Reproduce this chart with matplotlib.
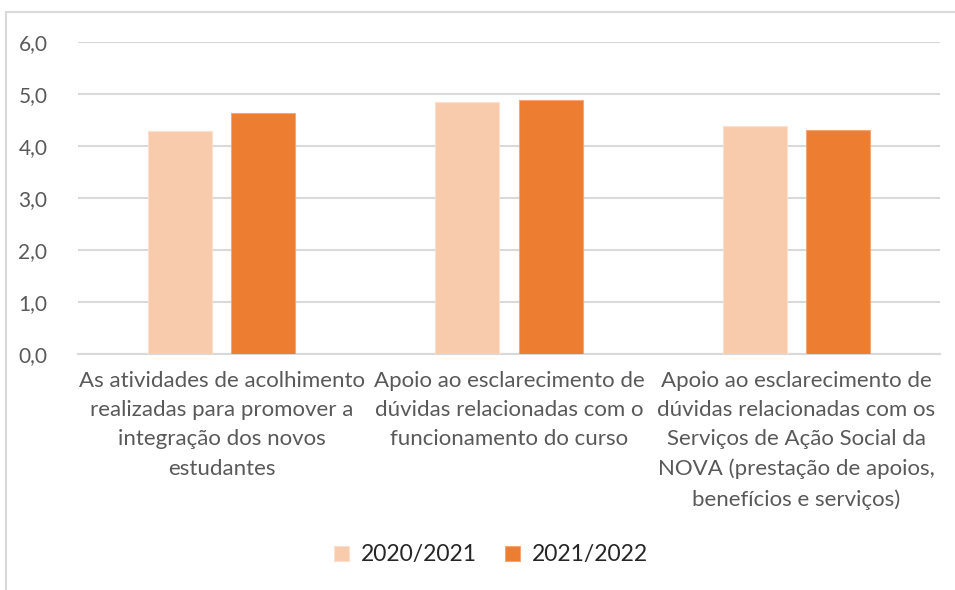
import matplotlib
matplotlib.use("Agg")
import matplotlib.pyplot as plt
from matplotlib.lines import Line2D
import numpy as np

categories = [
    "As atividades de acolhimento\nrealizadas para promover a\nintegração dos novos\nestudantes",
    "Apoio ao esclarecimento de\ndúvidas relacionadas com o\nfuncionamento do curso",
    "Apoio ao esclarecimento de\ndúvidas relacionadas com os\nServiços de Ação Social da\nNOVA (prestação de apoios,\nbenefícios e serviços)",
]
series_names = ["2020/2021", "2021/2022"]
values_2020 = [4.29, 4.85, 4.38]
values_2021 = [4.63, 4.88, 4.31]
yticks = [0, 1, 2, 3, 4, 5, 6]
ytick_labels = ["0,0", "1,0", "2,0", "3,0", "4,0", "5,0", "6,0"]

plt.rcParams['font.family'] = ['Lato', 'DejaVu Sans']
text_color = "#595959"
grid_color = "#D9D9D9"
c1 = "#F8CBAD"
c2 = "#ED7D31"

fig = plt.figure(figsize=(9.55, 5.9), dpi=100)
ax = fig.add_axes([78/955, 1-354/590, (940-78)/955, (354-42)/590])

x = np.arange(len(categories))
w = 0.223
off = 0.1446
ax.bar(x - off, values_2020, w, color=c1, edgecolor="#FBE0CE", linewidth=0.8, label=series_names[0], zorder=3)
ax.bar(x + off, values_2021, w, color=c2, edgecolor="#F4A774", linewidth=0.8, label=series_names[1], zorder=3)

ax.set_xlim(-0.5, 2.5)
ax.set_ylim(0, 6)
ax.set_yticks(yticks)
ax.set_yticklabels(ytick_labels)
ax.yaxis.grid(True, color=grid_color, linewidth=1.5, zorder=0)
for s in ["top", "right", "left"]:
    ax.spines[s].set_visible(False)
ax.spines["bottom"].set_color(grid_color)
ax.spines["bottom"].set_linewidth(1.5)
ax.tick_params(axis="y", length=0, pad=22, labelsize=15, labelcolor=text_color)
ax.tick_params(axis="x", length=0, pad=12, labelsize=16, labelcolor=text_color)
ax.set_xticks(x)
ax.set_xticklabels(categories, linespacing=1.58)

leg = fig.legend(loc="center", bbox_to_anchor=(491/955, 1-555/590), ncol=2, frameon=False,
                 fontsize=16.5, handlelength=0.65, handleheight=0.65, handletextpad=0.5, columnspacing=1.25)
for t in leg.get_texts():
    t.set_color("#262626")

# outer chart frame (left and top edges visible)
fig.add_artist(Line2D([6/955, 6/955], [0, 1-12/590], transform=fig.transFigure, color="#D9D9D9", linewidth=1.5))
fig.add_artist(Line2D([6/955, 1], [1-12/590, 1-12/590], transform=fig.transFigure, color="#D9D9D9", linewidth=1.5))

fig.savefig("out.png", dpi=100)
